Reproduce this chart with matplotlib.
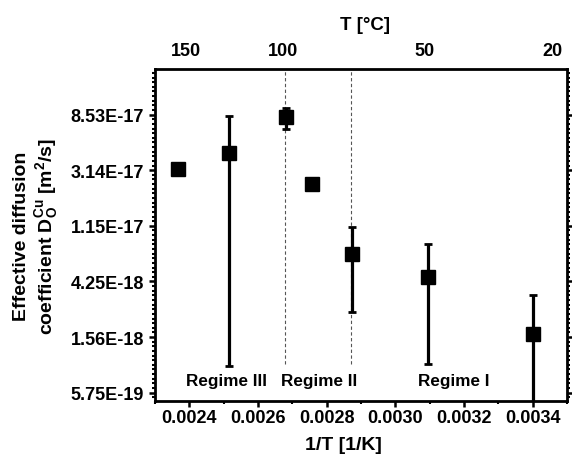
import numpy as np
import matplotlib
matplotlib.use("Agg")
import matplotlib.pyplot as plt
from matplotlib.ticker import FixedLocator, NullFormatter

plt.rcParams['font.family'] = ['Liberation Sans', 'DejaVu Sans']
plt.rcParams['font.weight'] = 'bold'
plt.rcParams['mathtext.fontset'] = 'custom'
plt.rcParams['mathtext.rm'] = 'Liberation Sans:bold'
plt.rcParams['mathtext.it'] = 'Liberation Sans:bold'
plt.rcParams['mathtext.bf'] = 'Liberation Sans:bold'
plt.rcParams['mathtext.default'] = 'rm'

# ---- data ----
inv_T = [0.002366, 0.002515, 0.002683, 0.002756, 0.002874, 0.003096, 0.003401]
D = [3.20e-17, 4.24e-17, 8.11e-17, 2.45e-17, 6.91e-18, 4.60e-18, 1.64e-18]
D_upper = [np.nan, 8.36e-17, 9.62e-17, np.nan, 1.14e-17, 8.27e-18, 3.31e-18]
D_lower = [np.nan, 9.27e-19, 6.64e-17, np.nan, 2.47e-18, 9.65e-19, 2.10e-19]

x_ticks = [0.0024, 0.0026, 0.0028, 0.0030, 0.0032, 0.0034]
x_ticklabels = ['0.0024', '0.0026', '0.0028', '0.0030', '0.0032', '0.0034']
y_tick_ln = [-37, -38, -39, -40, -41, -42]
y_ticklabels = ['8.53E-17', '3.14E-17', '1.15E-17', '4.25E-18', '1.56E-18', '5.75E-19']
top_tick_pos = [0.00239, 0.002672, 0.003084, 0.003459]
top_ticklabels = ['150', '100', '50', '20']
regime_lines = [0.00268, 0.002872]
regime_labels = ['Regime III', 'Regime II', 'Regime I']
regime_x = [0.002508, 0.002777, 0.003169]

# ---- figure ----
fig = plt.figure(figsize=(5.72, 4.56), dpi=100)
ax = fig.add_axes([155/572, 1-402/456, (567-155)/572, (402-70)/456])

ax.set_yscale('log', base=np.e)
ax.set_xlim(0.0023, 0.0035)
ax.set_ylim(np.exp(-42.15), np.exp(-36.18))

D_arr = np.array(D)
up = np.array(D_upper) - D_arr
lo = D_arr - np.array(D_lower)
ax.errorbar(inv_T, D, yerr=[lo, up], fmt='none', ecolor='black',
            elinewidth=2.3, capsize=2.6, capthick=2.0, zorder=2)
ax.plot(inv_T, D, linestyle='none', marker='s', markersize=9.8,
        color='black', zorder=3)

for xv in regime_lines:
    ax.plot([xv, xv], [np.exp(-41.48), np.exp(-36.18)], color='#555555',
            lw=0.8, dashes=(3, 2.2), zorder=1)
for xv, lab in zip(regime_x, regime_labels):
    ax.text(xv, np.exp(-41.79), lab, ha='center', va='center',
            fontsize=12.3, fontweight='bold')

ax.set_xticks(x_ticks)
ax.set_xticklabels(x_ticklabels)
ax.xaxis.set_minor_locator(FixedLocator(np.arange(0.0023, 0.00351, 0.0001)))
ax.set_yticks(np.exp(y_tick_ln))
ax.set_yticklabels(y_ticklabels)
minor_ln = np.arange(-43, -36, 1/12.0)
ax.yaxis.set_minor_locator(FixedLocator(np.exp(minor_ln)))
ax.yaxis.set_minor_formatter(NullFormatter())

ax.tick_params(which='both', direction='out', top=True, right=True,
               labeltop=False, labelright=False, width=1.8, colors='black')
ax.tick_params(which='major', length=4, labelsize=13)
ax.tick_params(which='minor', length=2.2, width=1.5)
ax.tick_params(axis='x', which='major', pad=2)
ax.tick_params(axis='y', which='major', pad=4)
for lbl in ax.get_xticklabels() + ax.get_yticklabels():
    lbl.set_fontweight('bold')
for sp in ax.spines.values():
    sp.set_linewidth(2.0)

ax2 = ax.twiny()
ax2.set_xlim(ax.get_xlim())
ax2.set_xticks(top_tick_pos)
ax2.set_xticklabels(top_ticklabels, fontsize=13, fontweight='bold')
ax2.tick_params(axis='x', length=0, pad=7.5)
ax2.xaxis.set_minor_locator(FixedLocator([]))
for sp in ax2.spines.values():
    sp.set_visible(False)

fig.text(365/572, 1-25/456, 'T [°C]', ha='center', va='center',
         fontsize=13.5, fontweight='bold')
fig.text(343/572, 1-446/456, '1/T [1/K]', ha='center', va='center',
         fontsize=14, fontweight='bold')
fig.text(22/572, 1-236/456, 'Effective diffusion', ha='center', va='center',
         rotation=90, fontsize=14, fontweight='bold')
fig.text(47/572, 1-236/456, r'coefficient D$_{O}^{Cu}$ [m$^{2}$/s]',
         ha='center', va='center', rotation=90, fontsize=14, fontweight='bold')

fig.savefig('out.png', dpi=100)
